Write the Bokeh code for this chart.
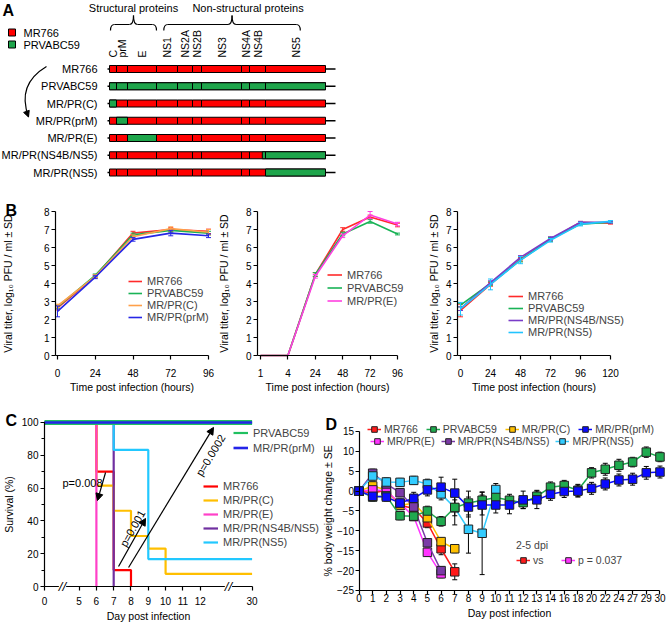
import math
from bokeh.plotting import figure
from bokeh.models import (Range1d, Legend, LegendItem, Label, Arrow, NormalHead,
                          FixedTicker, SingleIntervalTicker)
from bokeh.layouts import column, row
from bokeh.embed import file_html
from bokeh.resources import INLINE
from bokeh.core.properties import value

FONT = "Liberation Sans"

# ---------------- Panel A data ----------------
genes = ["C", "prM", "E", "NS1", "NS2A", "NS2B", "NS3", "NS4A", "NS4B", "NS5"]
gene_len = [7, 11, 29, 21, 15, 9, 40, 8, 16, 60]
constructs = ["MR766", "PRVABC59", "MR/PR(C)", "MR/PR(prM)", "MR/PR(E)",
              "MR/PR(NS4B/NS5)", "MR/PR(NS5)"]
# PRVABC59-derived span of each construct (gene-index units)
pr_span = [None, (0, 10), (0, 1), (1, 2), (2, 3), (8.8, 10), (9, 10)]
brace_labels = ["Structural proteins", "Non-structural proteins"]
brace_spans = [(0, 3), (3.3, 9.58)]
legend_a = ["MR766", "PRVABC59"]

# ---------------- Panel B data ----------------
b1_hours = [0, 24, 48, 72, 96]
b1_mr766 = [2.65, 4.4, 6.8, 7.0, 6.9]
b1_mr766_sd = [0.12, 0.08, 0.1, 0.1, 0.12]
b1_prvabc59 = [2.7, 4.45, 6.7, 6.95, 6.8]
b1_prvabc59_sd = [0.1, 0.08, 0.1, 0.1, 0.1]
b1_mrpr_c = [2.75, 4.4, 6.6, 7.05, 6.85]
b1_mrpr_c_sd = [0.1, 0.08, 0.1, 0.1, 0.15]
b1_mrpr_prm = [2.45, 4.35, 6.45, 6.8, 6.65]
b1_mrpr_prm_sd = [0.3, 0.08, 0.1, 0.15, 0.1]

b2_hours = ["1", "4", "24", "48", "72", "96"]
b2_mr766 = [0, 0, 4.5, 7.0, 7.7, 7.25]
b2_mr766_sd = [0, 0, 0.1, 0.1, 0.1, 0.1]
b2_prvabc59 = [0, 0, 4.5, 6.75, 7.45, 6.75]
b2_prvabc59_sd = [0, 0, 0.1, 0.1, 0.1, 0.05]
b2_mrpr_e = [0, 0, 4.4, 6.65, 7.8, 7.3]
b2_mrpr_e_sd = [0, 0, 0.1, 0.1, 0.2, 0.1]

b3_hours = [0, 24, 48, 72, 96, 120]
b3_mr766 = [2.5, 3.95, 5.35, 6.45, 7.4, 7.35]
b3_mr766_sd = [0.35, 0.1, 0.1, 0.1, 0.05, 0.05]
b3_prvabc59 = [2.8, 4.0, 5.3, 6.45, 7.3, 7.4]
b3_prvabc59_sd = [0.1, 0.1, 0.1, 0.1, 0.05, 0.05]
b3_ns4b_ns5 = [2.6, 4.05, 5.45, 6.5, 7.4, 7.4]
b3_ns4b_ns5_sd = [0.1, 0.1, 0.1, 0.1, 0.05, 0.05]
b3_ns5 = [2.6, 3.95, 5.3, 6.4, 7.3, 7.45]
b3_ns5_sd = [0.35, 0.3, 0.2, 0.1, 0.1, 0.05]

# ---------------- Panel C data ----------------
c_mr766_day = [0, 6, 7, 8]
c_mr766_pct = [100, 70, 10, 0]
c_prvabc59_day = [0, 30]
c_prvabc59_pct = [100, 100]
c_mrpr_c_day = [0, 6, 7, 8, 9, 10, 30]
c_mrpr_c_pct = [100, 61.5, 46.2, 30.8, 23.1, 7.7, 7.7]
c_mrpr_prm_day = [0, 30]
c_mrpr_prm_pct = [100, 100]
c_mrpr_e_day = [0, 6]
c_mrpr_e_pct = [100, 0]
c_ns4b_ns5_day = [0, 7]
c_ns4b_ns5_pct = [100, 0]
c_ns5_day = [0, 7, 9, 30]
c_ns5_pct = [100, 83.3, 16.7, 16.7]
c_tick_days = [0, 5, 6, 7, 8, 9, 10, 11, 12, 30]
c_break_days = [2.6, 21.8]

# ---------------- Panel D data ----------------
d_days = [0, 1, 2, 3, 4, 5, 6, 7, 8, 9, 10, 11, 12, 13, 14, 16, 18, 20, 22, 24, 27, 29, 30]
d_mr766 = [0, -0.5, 0.2, -3.6, -4.3, -8.0, -14.5, -20.3]
d_mr766_se = [0, 0.8, 1.0, 1.0, 1.2, 1.2, 1.5, 2.0]
d_prvabc59 = [0, -1.5, -1.2, -6.2, -6.3, -5.0, -7.6, -4.1, -3.0, -2.3, -1.6, -2.3, -2.9,
              -1.3, 1.0, 1.4, 0.2, 4.6, 5.5, 6.5, 7.3, 9.8, 8.6]
d_prvabc59_se = [0, 1.0, 1.0, 1.0, 1.0, 1.2, 1.2, 4.4, 3.0, 2.0, 1.5, 1.5, 1.5, 1.5,
                 1.3, 1.3, 1.5, 1.3, 1.5, 1.5, 1.2, 1.3, 1.2]
d_mrpr_c = [0, 1.3, 0.3, -3.6, -3.0, -6.7, -12.7, -14.5]
d_mrpr_c_se = [0, 1, 1, 1, 1, 1, 1, 1]
d_mrpr_prm = [0, -1.3, -1.5, -3.0, -1.8, 0.3, 1.0, -0.5, -4.0, -3.5, -3.5, -3.5, -2.2,
              -2.2, -0.8, -0.1, 0.0, 0.7, 1.8, 2.8, 3.0, 4.6, 4.8]
d_mrpr_prm_se = [0, 1, 1, 1, 1.5, 1.5, 2.5, 3.5, 2.5, 2.5, 2, 2.2, 2.2, 2.2, 1.5, 1.5,
                 1.5, 1.5, 1.5, 1.5, 1.5, 1.6, 1.5]
d_mrpr_e = [0, 0.3, 0.1, -3.1, -6.4, -15.4, -20.8]
d_mrpr_e_se = [0, 1, 1, 1, 1, 1, 1]
d_ns4b_ns5 = [0, 4.5, 1.8, -0.4, -4.0, -13.0, -20.0]
d_ns4b_ns5_se = [0, 1, 1, 1, 1, 1, 1]
d_ns5 = [0, 3.8, 2.3, 2.2, 2.7, 1.8, -0.7, -4.2, -9.6, -10.6, 0.4]
d_ns5_se = [0, 1, 1, 1, 1, 1.2, 1.5, 2, 6, 10.4, 1.5]

RED = "#ff0000"
GREEN = "#1ea54b"


def style(p):
    p.outline_line_color = None
    p.xgrid.visible = False
    p.ygrid.visible = False
    p.background_fill_color = "white"
    p.border_fill_color = "white"
    for ax in p.axis:
        ax.axis_line_color = "black"
        ax.axis_line_width = 1.2
        ax.major_tick_line_color = "black"
        ax.major_tick_line_width = 1.2
        ax.major_tick_out = 4
        ax.major_tick_in = 0
        ax.minor_tick_line_color = None
        ax.major_label_text_font = FONT
        ax.major_label_text_font_size = "10px"
        ax.major_label_text_color = "black"
        ax.axis_label_text_font = FONT
        ax.axis_label_text_font_size = "10.5px"
        ax.axis_label_text_font_style = "normal"
        ax.axis_label_text_color = "black"
        ax.major_label_standoff = 2
        ax.axis_label_standoff = 3


def panel_letter(p, letter, x, y):
    p.add_layout(Label(x=x, y=y, x_units="screen", y_units="screen", text=letter,
                       text_font=FONT, text_font_size="16px", text_font_style="bold",
                       text_baseline="bottom", text_align="left", text_color="black"))


def make_legend(items, loc, **kw):
    opts = dict(location=loc, padding=0, margin=0, spacing=0, glyph_width=15,
                glyph_height=12, label_height=12, label_standoff=5,
                label_text_font=FONT, label_text_font_size="11px",
                border_line_color=None, background_fill_alpha=0)
    opts.update(kw)
    return Legend(items=[LegendItem(label=l, renderers=r) for l, r in items], **opts)


def frame_fig(width, height, xr, yr):
    p = figure(width=width, height=height, x_range=Range1d(*xr), y_range=Range1d(*yr),
               output_backend="svg", toolbar_location=None, min_border=0)
    style(p)
    return p


# ====================== Panel A ======================
A_W, A_H = 667, 198
pA = figure(width=A_W, height=A_H, x_range=Range1d(0, A_W), y_range=Range1d(A_H, 0),
            output_backend="svg", toolbar_location=None, min_border=0,
            x_axis_location=None, y_axis_location=None)
style(pA)

x0 = 109
bounds = [x0]
for L in gene_len:
    bounds.append(bounds[-1] + L)


def gx(g):
    i = int(math.floor(g))
    if i >= len(gene_len):
        return bounds[-1]
    return bounds[i] + (g - i) * gene_len[i]


row_y = [68.5 + 17.25 * i for i in range(len(constructs))]
bar_h = 7
pA.segment(x0=[bounds[0] - 2] * len(row_y), y0=row_y, x1=[bounds[-1] + 10] * len(row_y),
           y1=row_y, line_color="black", line_width=1.5)
ql, qr, qt, qb = [], [], [], []
for y in row_y:
    for j in range(len(genes)):
        ql.append(bounds[j]); qr.append(bounds[j + 1]); qt.append(y - bar_h / 2); qb.append(y + bar_h / 2)
pA.quad(left=ql, right=qr, top=qt, bottom=qb, fill_color=RED, line_color="black", line_width=1)
gl, gr, gt, gb = [], [], [], []
for y, span in zip(row_y, pr_span):
    if span is None:
        continue
    a, b = span
    pts = sorted(set([a, b] + [k for k in range(len(genes) + 1) if a < k < b]))
    for s, e in zip(pts[:-1], pts[1:]):
        gl.append(gx(s)); gr.append(gx(e)); gt.append(y - bar_h / 2); gb.append(y + bar_h / 2)
pA.quad(left=gl, right=gr, top=gt, bottom=gb, fill_color=GREEN, line_color="black", line_width=1)
pA.text(x=[97] * len(constructs), y=row_y, text=constructs, text_font=value(FONT),
        text_font_size=value("11px"), text_align="right", text_baseline="middle",
        text_color="black")
pA.text(x=[(bounds[j] + bounds[j + 1]) / 2 for j in range(len(genes))],
        y=[57] * len(genes), text=genes, angle=math.pi / 2, text_font=value(FONT),
        text_font_size=value("10.5px"), text_align="left", text_baseline="middle",
        text_color="black")
yb_end, yb_bar, yb_tip, rr = 30, 24, 15, 4
qx0, qy0, qx1, qy1, qcx, qcy = [], [], [], [], [], []
sx0, sx1, sy = [], [], []
mids = []
for a, b in brace_spans:
    xa, xb = gx(a) + 1, gx(b)
    xm = (xa + xb) / 2
    mids.append(xm)
    qx0 += [xa, xm - rr, xm, xb - rr]
    qy0 += [yb_end, yb_bar, yb_tip, yb_bar]
    qx1 += [xa + rr, xm, xm + rr, xb]
    qy1 += [yb_bar, yb_tip, yb_bar, yb_end]
    qcx += [xa, xm, xm, xb]
    qcy += [yb_bar, yb_bar, yb_bar, yb_bar]
    sx0 += [xa + rr, xm + rr]
    sx1 += [xm - rr, xb - rr]
    sy += [yb_bar, yb_bar]
pA.quadratic(x0=qx0, y0=qy0, x1=qx1, y1=qy1, cx=qcx, cy=qcy, line_color="black", line_width=1.2)
pA.segment(x0=sx0, y0=sy, x1=sx1, y1=sy, line_color="black", line_width=1.2)
pA.text(x=[mids[0], mids[1] + 16], y=[7, 7], text=brace_labels, text_font=value(FONT),
        text_font_size=value("11px"), text_align="center", text_baseline="middle",
        text_color="black")
pA.rect(x=[11.5, 11.5], y=[32, 44], width=7, height=7, fill_color=[RED, GREEN],
        line_color="black", line_width=1)
pA.text(x=[23, 23], y=[32, 44], text=legend_a, text_font=value(FONT),
        text_font_size=value("11px"), text_align="left", text_baseline="middle",
        text_color="black")
pA.text(x=[2], y=[1], text=["A"], text_font=value(FONT), text_font_size=value("16px"),
        text_font_style="bold", text_align="left", text_baseline="top", text_color="black")
pA.quadratic(x0=[46], y0=[66], x1=[28], y1=[116], cx=[16], cy=[84], line_color="black",
             line_width=1.2)
pA.add_layout(Arrow(end=NormalHead(size=6, fill_color="black", line_color="black"),
                    x_start=25.6, y_start=110, x_end=28, y_end=116.5,
                    line_color="black", line_width=1.2))


# ====================== Panel B ======================
B_H = 198
B_YR = (-41 / 18, 8 + 13 / 18)


def b_fig(width, xr, yaxis_x, xbounds, ylab_standoff):
    p = frame_fig(width, B_H, xr, B_YR)
    p.yaxis.fixed_location = yaxis_x
    p.xaxis.fixed_location = 0
    p.yaxis.bounds = (0, 8)
    p.xaxis.bounds = xbounds
    p.yaxis.ticker = SingleIntervalTicker(interval=1, num_minor_ticks=0)
    p.yaxis.axis_label = "Viral titer, log\u2081\u2080 PFU / ml \u00b1 SD"
    p.yaxis.axis_label_standoff = ylab_standoff
    p.xaxis.axis_label = "Time post infection (hours)"
    p.xaxis.major_label_standoff = 9
    p.xaxis.axis_label_standoff = 1
    return p


def b_series(p, xs, ys, sd, color):
    ex = [x for x, s in zip(xs, sd) if s > 0]
    lo = [y - s for y, s in zip(ys, sd) if s > 0]
    hi = [y + s for y, s in zip(ys, sd) if s > 0]
    p.segment(x0=ex, y0=lo, x1=ex, y1=hi, line_color=color, line_width=1)
    p.scatter(ex, hi, marker="dash", size=5, line_color=color, line_width=1)
    p.scatter(ex, lo, marker="dash", size=5, line_color=color, line_width=1)
    return p.line(xs, ys, line_color=color, line_width=1.6)


pB1 = b_fig(218, (-36.24, 102.35), -1.27, (-1.27, 96), 27)
pB1.xaxis.ticker = FixedTicker(ticks=b1_hours)
r1 = b_series(pB1, b1_hours, b1_mr766, b1_mr766_sd, "#ff2a2a")
r2 = b_series(pB1, b1_hours, b1_prvabc59, b1_prvabc59_sd, "#19b356")
r3 = b_series(pB1, b1_hours, b1_mrpr_c, b1_mrpr_c_sd, "#ffa04a")
r4 = b_series(pB1, b1_hours, b1_mrpr_prm, b1_mrpr_prm_sd, "#2626e6")
pB1.add_layout(make_legend([("MR766", [r1]), ("PRVABC59", [r2]), ("MR/PR(C)", [r3]),
                            ("MR/PR(prM)", [r4])], (128, 73), glyph_width=14))
panel_letter(pB1, "B", 5, 178)

b2_x = list(range(len(b2_hours)))
pB2 = b_fig(210, (-1.533, 6.131), -0.11, (-0.11, 5), 13)
pB2.xaxis.ticker = FixedTicker(ticks=b2_x)
pB2.xaxis.major_label_overrides = {i: h for i, h in enumerate(b2_hours)}
r1 = b_series(pB2, b2_x, b2_mr766, b2_mr766_sd, "#ff2a2a")
r2 = b_series(pB2, b2_x, b2_prvabc59, b2_prvabc59_sd, "#19b356")
r3 = b_series(pB2, b2_x, b2_mrpr_e, b2_mrpr_e_sd, "#ff40e0")
pB2.add_layout(make_legend([("MR766", [r1]), ("PRVABC59", [r2]), ("MR/PR(E)", [r3])],
                           (109, 89), glyph_height=13, label_height=13))

pB3 = b_fig(239, (-25.6, 165.6), -2.4, (-2.4, 120), 3)
pB3.xaxis.ticker = FixedTicker(ticks=b3_hours)
r1 = b_series(pB3, b3_hours, b3_mr766, b3_mr766_sd, "#ff2a2a")
r2 = b_series(pB3, b3_hours, b3_prvabc59, b3_prvabc59_sd, "#19b356")
r3 = b_series(pB3, b3_hours, b3_ns4b_ns5, b3_ns4b_ns5_sd, "#7a3cc8")
r4 = b_series(pB3, b3_hours, b3_ns5, b3_ns5_sd, "#22c4ff")
pB3.add_layout(make_legend([("MR766", [r1]), ("PRVABC59", [r2]), ("MR/PR(NS4B/NS5)", [r3]),
                            ("MR/PR(NS5)", [r4])], (80, 58)))


# ====================== Panel C ======================
def day_pos(d):
    if d <= 5:
        v = d * 0.4
    elif d <= 12:
        v = d - 3
    else:
        v = 9 + (d - 12) / 6
    return int(v) if float(v).is_integer() else v


pC = frame_fig(322, 226, (-2.543, 16.07), (-21.95, 115.85))
pC.yaxis.fixed_location = 0
pC.xaxis.fixed_location = 0
pC.yaxis.ticker = SingleIntervalTicker(interval=20, num_minor_ticks=2)
pC.yaxis.minor_tick_line_color = "black"
pC.yaxis.minor_tick_line_width = 1.2
pC.yaxis.minor_tick_out = 3
pC.yaxis.minor_tick_in = 0
pC.yaxis.bounds = (0, 100)
pC.yaxis.axis_label = "Survival (%)"
pC.yaxis.axis_label_standoff = 4
pC.xaxis.ticker = FixedTicker(ticks=[day_pos(d) for d in c_tick_days])
pC.xaxis.major_label_overrides = {day_pos(d): str(d) for d in c_tick_days}
pC.xaxis.bounds = (0, 12)
pC.xaxis.axis_label = "Day post infection"
pC.xaxis.major_label_standoff = 6
pC.xaxis.axis_label_standoff = 2


def c_step(days, pct, color, width=2.2):
    return pC.step([day_pos(d) for d in days], pct, mode="after", line_color=color,
                   line_width=width)


rc_red = c_step(c_mr766_day, c_mr766_pct, "#ff0000")
rc_c = c_step(c_mrpr_c_day, c_mrpr_c_pct, "#ffbf00")
rc_e = c_step(c_mrpr_e_day, c_mrpr_e_pct, "#ff40c8")
rc_ns4b = c_step(c_ns4b_ns5_day, c_ns4b_ns5_pct, "#7030a0")
rc_ns5 = c_step(c_ns5_day, c_ns5_pct, "#22c8ff")
c_step(c_prvabc59_day, c_prvabc59_pct, "#20c060", 5)          # green halo
rc_pr = c_step(c_prvabc59_day, c_prvabc59_pct, "#20c060", 2.2)
rc_prm = c_step(c_mrpr_prm_day, c_mrpr_prm_pct, "#2424e8", 2.6)

pC.add_layout(make_legend([("PRVABC59", [rc_pr]), ("MR/PR(prM)", [rc_prm])], (233, 167),
                          glyph_height=15, label_height=15))
pC.add_layout(make_legend([("MR766", [rc_red]), ("MR/PR(C)", [rc_c]), ("MR/PR(E)", [rc_e]),
                           ("MR/PR(NS4B/NS5)", [rc_ns4b]), ("MR/PR(NS5)", [rc_ns5])],
                          (203, 73), glyph_height=14, label_height=14))

head = dict(size=7, fill_color="black", line_color="black")
pC.add_layout(Arrow(end=NormalHead(**head), x_start=3.53, y_start=69.5, x_end=3.06,
                    y_end=52.4, line_width=1.2))
pC.add_layout(Arrow(end=NormalHead(**head), x_start=4.28, y_start=12.2, x_end=5.84,
                    y_end=41.5, line_width=1.2))
pC.add_layout(Arrow(end=NormalHead(**head), x_start=4.86, y_start=11.6, x_end=9.77,
                    y_end=97, line_width=1.2))
lab = dict(text_font=FONT, text_font_size="11px", text_color="black")
pC.add_layout(Label(x=1.04, y=63.4, text="p=0.008", text_align="left",
                    text_baseline="middle", **lab))
pC.add_layout(Label(x=5.09, y=35.4, text="p=0.001", text_align="center",
                    text_baseline="middle", angle=60.6, angle_units="deg", **lab))
pC.add_layout(Label(x=9.6, y=80, text="p=0.0002", text_align="center",
                    text_baseline="middle", angle=58.7, angle_units="deg", **lab))
for bd in c_break_days:
    pC.add_layout(Label(x=day_pos(bd), y=0, text="//", text_align="center",
                        text_baseline="middle", text_font=FONT, text_font_size="13px",
                        text_font_style="italic", background_fill_color="white",
                        text_color="black"))
panel_letter(pC, "C", 5, 194)

# ====================== Panel D ======================
pD = frame_fig(345, 226, (-2.668, 22.55), (-33.05, 23.80))
pD.yaxis.fixed_location = 0
pD.xaxis.fixed_location = -25
pD.yaxis.ticker = SingleIntervalTicker(interval=5, num_minor_ticks=0)
pD.yaxis.bounds = (-25, 15)
pD.yaxis.axis_label = "% body weight change \u00b1 SE"
pD.yaxis.axis_label_standoff = 1
pD.yaxis.major_label_standoff = 1
pD.xaxis.ticker = FixedTicker(ticks=list(range(len(d_days))))
pD.xaxis.major_label_overrides = {i: str(d) for i, d in enumerate(d_days)}
pD.xaxis.bounds = (0, len(d_days) - 1)
pD.xaxis.axis_label = "Day post infection"
pD.xaxis.major_label_standoff = 0
pD.xaxis.axis_label_standoff = 1

d_series = [
    ("MR766", d_mr766, d_mr766_se, "#ff1a1a"),
    ("MR/PR(C)", d_mrpr_c, d_mrpr_c_se, "#ffc000"),
    ("MR/PR(E)", d_mrpr_e, d_mrpr_e_se, "#ff33ff"),
    ("MR/PR(NS4B/NS5)", d_ns4b_ns5, d_ns4b_ns5_se, "#7a3aa6"),
    ("MR/PR(NS5)", d_ns5, d_ns5_se, "#33ccff"),
    ("PRVABC59", d_prvabc59, d_prvabc59_se, "#1faa4f"),
    ("MR/PR(prM)", d_mrpr_prm, d_mrpr_prm_se, "#0a0aff"),
]
for name, vals, se, color in d_series:
    idx = list(range(len(vals)))
    ex = [i for i, s in zip(idx, se) if s > 0]
    lo = [v - s for v, s in zip(vals, se) if s > 0]
    hi = [v + s for v, s in zip(vals, se) if s > 0]
    pD.segment(x0=ex, y0=lo, x1=ex, y1=hi, line_color="black", line_width=1)
    pD.scatter(ex, hi, marker="dash", size=5, line_color="black", line_width=1)
    pD.scatter(ex, lo, marker="dash", size=5, line_color="black", line_width=1)
d_r = {}
for name, vals, se, color in d_series:
    idx = list(range(len(vals)))
    rl = pD.line(idx, vals, line_color=color, line_width=1.5)
    rm = pD.scatter(idx, vals, marker="square", size=8.5, fill_color=color,
                    line_color="#222222", line_width=1)
    d_r[name] = [rl, rm]

dleg = dict(orientation="horizontal", glyph_width=14, glyph_height=14, label_height=12,
            label_standoff=3, label_text_font_size="10.5px")
pD.add_layout(make_legend([(n, d_r[n]) for n in ["MR766", "PRVABC59", "MR/PR(C)", "MR/PR(prM)"]],
                          (45, 186), spacing=8, **dleg))
pD.add_layout(make_legend([(n, d_r[n]) for n in ["MR/PR(E)", "MR/PR(NS4B/NS5)", "MR/PR(NS5)"]],
                          (48, 174), spacing=6, **dleg))
pD.add_layout(make_legend([("vs", d_r["MR766"]), ("p = 0.037", d_r["MR/PR(E)"])],
                          (194, 55), spacing=8, title="2-5 dpi", title_text_font=FONT,
                          title_text_font_size="10.5px", title_text_font_style="normal",
                          title_standoff=2, **dleg))
panel_letter(pD, "D", 3, 190)

layout = column(pA, row(pB1, pB2, pB3), row(pC, pD))
open("out.html", "w").write(file_html(layout, INLINE))
